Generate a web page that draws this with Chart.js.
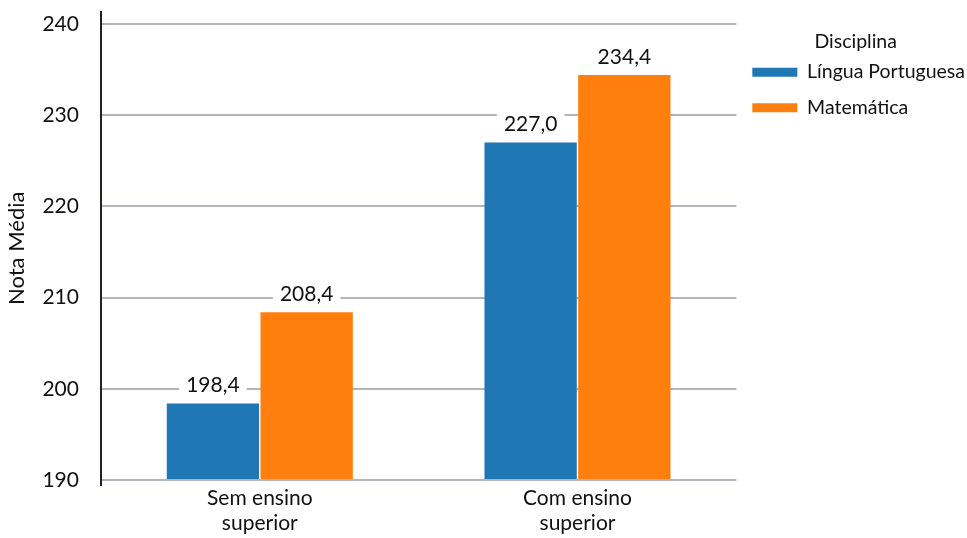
<!DOCTYPE html>
<html>
<head>
<meta charset="utf-8">
<script src="https://cdn.jsdelivr.net/npm/chart.js@4.4.1/dist/chart.umd.min.js"></script>
<style>
html,body{margin:0;padding:0;background:#fff;}
#wrap{width:967px;height:538px;position:relative;}
</style>
</head>
<body>
<div id="wrap"><canvas id="c" width="967" height="538"></canvas></div>
<script>
const categories = [["Sem ensino","superior"],["Com ensino","superior"]];
const seriesNames = ["Língua Portuguesa","Matemática"];
const linguaPortuguesa = [198.4, 227.0];
const matematica = [208.4, 234.4];
const yTicks = [190,200,210,220,230,240];
const colors = ["#1f77b4","#ff7f0e"];
const FONT = "Lato, 'Open Sans', sans-serif";

const labelPlugin = {
  id:'barLabels',
  afterDatasetsDraw(chart){
    const ctx = chart.ctx;
    ctx.save();
    ctx.font = "21px " + FONT;
    ctx.textAlign = 'center';
    ctx.textBaseline = 'middle';
    chart.data.datasets.forEach((ds,i)=>{
      chart.getDatasetMeta(i).data.forEach((bar,j)=>{
        const txt = ds.data[j].toFixed(1).replace('.',',');
        const w = ctx.measureText(txt).width + 14;
        const y = bar.y - 19;
        ctx.fillStyle = '#fff';
        ctx.fillRect(bar.x - w/2, y - 12, w, 24);
        ctx.fillStyle = '#111';
        ctx.fillText(txt, bar.x, y+1);
      });
    });
    ctx.restore();
  }
};

new Chart(document.getElementById('c'), {
  type:'bar',
  data:{
    labels: categories,
    datasets:[
      {label:seriesNames[0], data:linguaPortuguesa, backgroundColor:colors[0], base:190, barPercentage:0.985, categoryPercentage:0.59},
      {label:seriesNames[1], data:matematica, backgroundColor:colors[1], base:190, barPercentage:0.985, categoryPercentage:0.59}
    ]
  },
  options:{
    responsive:false,
    animation:false,
    devicePixelRatio:1,
    layout:{padding:{left:4,right:-8,top:0,bottom:1}},
    plugins:{
      tooltip:{enabled:false},
      legend:{
        position:'right',
        align:'start',
        title:{display:true,text:'Disciplina',color:'#111',font:{size:19.5,family:FONT},padding:{top:32,bottom:-9}},
        labels:{boxWidth:45,boxHeight:9,padding:16,color:'#111',font:{size:19.5,family:FONT}}
      }
    },
    scales:{
      x:{
        grid:{display:false,drawTicks:false},
        border:{display:false},
        ticks:{color:'#111',font:{size:21,family:FONT},padding:1}
      },
      y:{
        min:189.5,max:241.3,
        afterBuildTicks(scale){ scale.ticks = yTicks.map(v=>({value:v})); },
        afterFit(scale){ scale.paddingTop = 12; scale.paddingBottom = 0; },
        grid:{color:'#b4b4bc',lineWidth:2,drawTicks:false},
        border:{display:true,color:'#222',width:2},
        ticks:{color:'#111',font:{size:21,family:FONT},padding:22},
        title:{display:true,text:'Nota Média',color:'#111',font:{size:22,family:FONT},padding:{top:0,bottom:-10}}
      }
    }
  },
  plugins:[labelPlugin]
});
</script>
</body>
</html>
